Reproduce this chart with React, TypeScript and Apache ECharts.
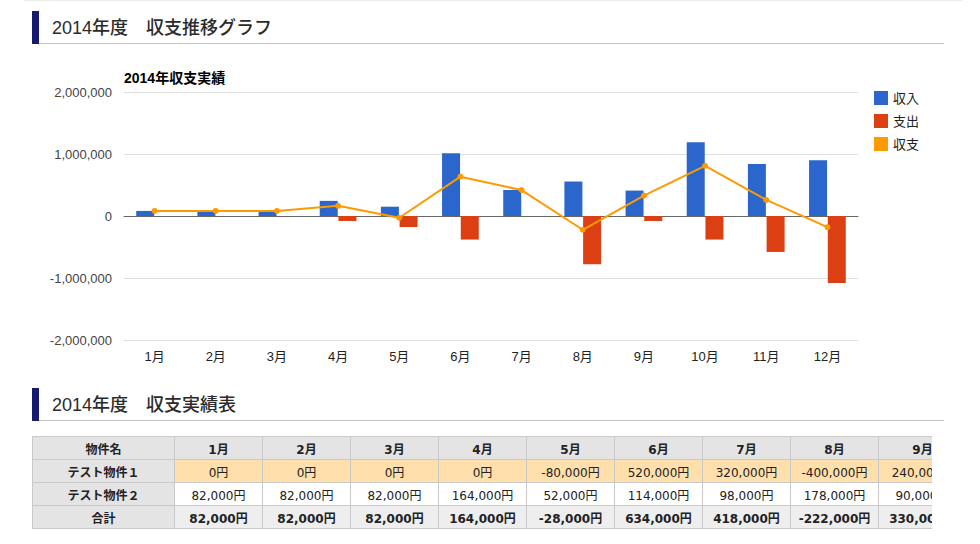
import React, { useEffect, useRef } from "react";
import * as echarts from "echarts";

const months = ["1月", "2月", "3月", "4月", "5月", "6月", "7月", "8月", "9月", "10月", "11月", "12月"];
const income = [82000, 82000, 82000, 244000, 150000, 1014000, 418000, 556000, 410000, 1190000, 840000, 900000];
const expense = [0, 0, 0, -80000, -178000, -380000, 0, -778000, -80000, -380000, -580000, -1080000];
const balance = [82000, 82000, 82000, 164000, -28000, 634000, 418000, -222000, 330000, 810000, 260000, -180000];
const yTicks = [-2000000, -1000000, 0, 1000000, 2000000];

const tableMonths = ["1月", "2月", "3月", "4月", "5月", "6月", "7月", "8月", "9月"];
const property1 = [0, 0, 0, 0, -80000, 520000, 320000, -400000, 240000];
const property2 = [82000, 82000, 82000, 164000, 52000, 114000, 98000, 178000, 90000];
const totals = [82000, 82000, 82000, 164000, -28000, 634000, 418000, -222000, 330000];

const JP = '"Liberation Sans", Arial, "Noto Sans CJK JP", sans-serif';
const TBL = '"DejaVu Sans", Verdana, "Noto Sans CJK JP", sans-serif';

const fmt = (v: number) => v.toLocaleString("en-US");

function Heading({ top, text }: { top: number; text: string }) {
  return (
    <div style={{ position: "absolute", left: 32, top, width: 912, height: 33 }}>
      <div style={{ position: "absolute", left: 0, top: 0, width: 7, height: 33, background: "#151a6e" }} />
      <div style={{ position: "absolute", left: 7, top: 32, width: 905, height: 1, background: "#c4c4c4" }} />
      <div
        style={{
          position: "absolute",
          left: 20,
          top: 4,
          fontFamily: JP,
          fontSize: 18,
          fontWeight: 500,
          lineHeight: "26px",
          color: "#2b2b2b",
          whiteSpace: "pre",
        }}
      >
        {text}
      </div>
    </div>
  );
}

function Chart() {
  const ref = useRef<HTMLDivElement>(null);
  useEffect(() => {
    if (!ref.current) return;
    const chart = echarts.init(ref.current, null, { renderer: "svg" });
    chart.setOption({
      animation: false,
      title: {
        text: "2014年収支実績",
        left: 119,
        top: 16,
        textStyle: { fontFamily: JP, fontSize: 14, fontWeight: "bold", color: "#000" },
      },
      legend: {
        orient: "vertical",
        left: 869,
        top: 36,
        itemWidth: 14,
        itemHeight: 14,
        itemGap: 9,
        textStyle: { fontFamily: JP, fontSize: 13, color: "#222" },
        data: [
          { name: "収入", icon: "rect" },
          { name: "支出", icon: "rect" },
          { name: "収支", icon: "rect" },
        ],
      },
      grid: { left: 124, right: 122, top: 42, bottom: 40 },
      xAxis: {
        type: "category",
        data: months,
        axisLine: { onZero: true, lineStyle: { color: "#666", width: 1 } },
        axisTick: { show: false },
        axisLabel: { fontFamily: JP, fontSize: 13, color: "#222", margin: 10 },
      },
      yAxis: {
        type: "value",
        min: yTicks[0],
        max: yTicks[yTicks.length - 1],
        interval: 1000000,
        axisLine: { show: false },
        axisTick: { show: false },
        axisLabel: { fontFamily: JP, fontSize: 13, color: "#444", margin: 12, formatter: (v: number) => fmt(v) },
        splitLine: { lineStyle: { color: "#e0e0e0", width: 1 } },
      },
      series: [
        {
          name: "収入",
          type: "bar",
          data: income,
          barWidth: 18,
          barGap: "4%",
          itemStyle: { color: "#2a66cb" },
        },
        {
          name: "支出",
          type: "bar",
          data: expense,
          barWidth: 18,
          barGap: "4%",
          itemStyle: { color: "#dc3f12" },
        },
        {
          name: "収支",
          type: "line",
          data: balance,
          symbol: "circle",
          symbolSize: 6,
          lineStyle: { color: "#ff9900", width: 2 },
          itemStyle: { color: "#ff9900" },
          z: 5,
        },
      ],
    });
    return () => chart.dispose();
  }, []);
  return <div ref={ref} style={{ position: "absolute", left: 0, top: 50, width: 980, height: 330 }} />;
}

const cellBase: React.CSSProperties = {
  border: "1px solid #c9c9c9",
  height: 22,
  padding: 0,
  textAlign: "center",
  fontSize: 12,
  whiteSpace: "nowrap",
  color: "#222",
};

function DataTable() {
  return (
    <div style={{ position: "absolute", left: 32, top: 436, width: 900, height: 100, overflow: "hidden" }}>
      <table style={{ borderCollapse: "collapse", fontFamily: TBL, tableLayout: "fixed", width: 934 }}>
        <colgroup>
          <col style={{ width: 142 }} />
          {tableMonths.map((m) => (
            <col key={m} style={{ width: 88 }} />
          ))}
        </colgroup>
        <tbody>
          <tr>
            <td style={{ ...cellBase, background: "#e4e4e4", fontWeight: "bold" }}>物件名</td>
            {tableMonths.map((m) => (
              <td key={m} style={{ ...cellBase, background: "#e4e4e4", fontWeight: "bold" }}>
                {m}
              </td>
            ))}
          </tr>
          <tr>
            <td style={{ ...cellBase, background: "#e4e4e4", fontWeight: "bold" }}>テスト物件１</td>
            {property1.map((v, i) => (
              <td key={i} style={{ ...cellBase, background: "#ffdfab" }}>
                {fmt(v)}円
              </td>
            ))}
          </tr>
          <tr>
            <td style={{ ...cellBase, background: "#e4e4e4", fontWeight: "bold" }}>テスト物件２</td>
            {property2.map((v, i) => (
              <td key={i} style={{ ...cellBase, background: "#fff" }}>
                {fmt(v)}円
              </td>
            ))}
          </tr>
          <tr>
            <td style={{ ...cellBase, background: "#e4e4e4", fontWeight: "bold" }}>合計</td>
            {totals.map((v, i) => (
              <td key={i} style={{ ...cellBase, background: "#eeeeee", fontWeight: "bold" }}>
                {fmt(v)}円
              </td>
            ))}
          </tr>
        </tbody>
      </table>
    </div>
  );
}

export default function App() {
  return (
    <div style={{ position: "absolute", left: 0, top: 0, width: 980, height: 544, overflow: "hidden", background: "#fff" }}>
      <div style={{ position: "absolute", left: 24, top: 0, width: 938, height: 1, background: "#ececec" }} />
      <Heading top={11} text={"2014年度　収支推移グラフ"} />
      <Chart />
      <Heading top={388} text={"2014年度　収支実績表"} />
      <DataTable />
    </div>
  );
}
